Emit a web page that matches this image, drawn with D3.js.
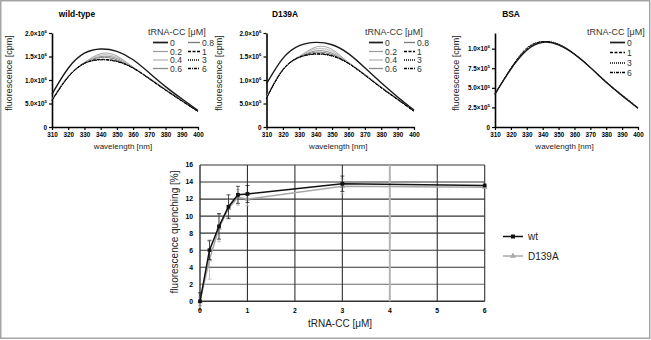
<!DOCTYPE html>
<html>
<head>
<meta charset="utf-8">
<script src="https://cdnjs.cloudflare.com/ajax/libs/d3/7.8.5/d3.min.js"></script>
<style>
    body { margin: 0; background: #fff; }
    svg { display: block; font-family: "Liberation Sans", Arial, sans-serif; }
    .tick-lbl { font-weight: bold; }
</style>
</head>
<body>
<div id="figure"></div>
<script>
var wavelengths = [310, 320, 330, 340, 350, 360, 370, 380, 390, 400];
var concLabels = ["0", "0.2", "0.4", "0.6", "0.8", "1", "3", "6"];
var bsaConcLabels = ["0", "1", "3", "6"];

// fluorescence in 10^6 cpm, one row per tRNA-CC concentration
var wtSpectra = [
    [0.70, 1.25, 1.57, 1.66, 1.61, 1.43, 1.15, 0.86, 0.60, 0.35],
    [0.58, 1.08, 1.37, 1.56, 1.51, 1.27, 1.04, 0.80, 0.57, 0.34],
    [0.58, 1.08, 1.37, 1.53, 1.48, 1.27, 1.04, 0.80, 0.57, 0.34],
    [0.57, 1.07, 1.37, 1.50, 1.46, 1.27, 1.03, 0.79, 0.56, 0.34],
    [0.57, 1.07, 1.36, 1.48, 1.43, 1.26, 1.03, 0.79, 0.56, 0.33],
    [0.57, 1.07, 1.36, 1.44, 1.40, 1.26, 1.03, 0.79, 0.56, 0.33],
    [0.57, 1.06, 1.35, 1.43, 1.40, 1.25, 1.03, 0.79, 0.56, 0.33],
    [0.56, 1.06, 1.35, 1.43, 1.39, 1.25, 1.02, 0.78, 0.55, 0.33]
];
var d139aSpectra = [
    [0.92, 1.46, 1.73, 1.80, 1.75, 1.56, 1.26, 0.94, 0.64, 0.36],
    [0.63, 1.23, 1.50, 1.70, 1.65, 1.37, 1.12, 0.85, 0.60, 0.35],
    [0.63, 1.23, 1.50, 1.66, 1.61, 1.37, 1.12, 0.85, 0.60, 0.35],
    [0.62, 1.22, 1.49, 1.62, 1.57, 1.37, 1.11, 0.84, 0.59, 0.34],
    [0.62, 1.22, 1.49, 1.59, 1.54, 1.36, 1.11, 0.84, 0.59, 0.34],
    [0.62, 1.22, 1.49, 1.56, 1.52, 1.36, 1.11, 0.84, 0.59, 0.34],
    [0.61, 1.21, 1.48, 1.55, 1.51, 1.35, 1.10, 0.84, 0.59, 0.34],
    [0.61, 1.21, 1.48, 1.55, 1.51, 1.35, 1.10, 0.83, 0.58, 0.33]
];
var bsaSpectra = [
    [0.42, 0.74, 0.98, 1.08, 1.05, 0.93, 0.76, 0.57, 0.40, 0.24],
    [0.42, 0.75, 1.00, 1.09, 1.05, 0.93, 0.76, 0.57, 0.40, 0.24],
    [0.42, 0.75, 1.01, 1.09, 1.06, 0.93, 0.76, 0.58, 0.41, 0.25],
    [0.42, 0.74, 0.99, 1.09, 1.05, 0.93, 0.76, 0.57, 0.40, 0.24]
];

var titrConc = [0, 0.2, 0.4, 0.6, 0.8, 1, 3, 6];
var wtQuench = [0, 6.0, 8.8, 11.1, 12.5, 12.6, 13.8, 13.6];
var wtErr = [1.0, 1.1, 1.5, 1.4, 1.0, 1.0, 0.9, 0];
var d139aQuench = [0, 4.9, 8.6, 10.9, 12.2, 12.0, 13.5, 13.4];
var d139aErr = [0.5, 2.3, 1.6, 1.1, 0.9, 0.8, 0.9, 0];
var quenchXTicks = [0, 1, 2, 3, 4, 5, 6];
var quenchYTicks = [0, 2, 4, 6, 8, 10, 12, 14, 16];

// line look for each concentration label
var lineStyles = {
    "0":   { color: "#1a1a1a", width: 1.4, dash: null },
    "0.2": { color: "#9a9a9a", width: 0.9, dash: null },
    "0.4": { color: "#c6c6c6", width: 1.3, dash: null },
    "0.6": { color: "#8c8c8c", width: 1.0, dash: null },
    "0.8": { color: "#7a7a7a", width: 1.0, dash: null },
    "1":   { color: "#000", width: 1.0, dash: "3,1.5" },
    "3":   { color: "#000", width: 1.0, dash: "1,1" },
    "6":   { color: "#000", width: 1.0, dash: "3,1,1,1" }
};

var svg = d3.select("#figure").append("svg")
    .attr("width", 651)
    .attr("height", 340);

svg.append("rect")
    .attr("x", 0.75).attr("y", 0.75)
    .attr("width", 649).attr("height", 337.5)
    .attr("fill", "#fff")
    .attr("stroke", "#a5a5a5")
    .attr("stroke-width", 1.5);

/*
 *  SpectrumVis - one emission spectrum panel
 */
SpectrumVis = function(_svg, _title, _spectra, _labels, _opts) {
    this.svg = _svg;
    this.title = _title;
    this.spectra = _spectra;
    this.labels = _labels;
    this.opts = _opts;
    this.initVis();
}

SpectrumVis.prototype.initVis = function() {
    var vis = this;
    var o = vis.opts;

    vis.g = vis.svg.append("g");

    vis.x = d3.scaleLinear().domain([310, 400]).range([o.left, o.right]);
    vis.y = d3.scaleLinear().domain([0, o.yMax]).range([127, 33]);

    // x axis
    vis.xAxis = d3.axisBottom(vis.x)
        .tickValues(wavelengths)
        .tickSize(3)
        .tickSizeOuter(0)
        .tickPadding(2.5);
    vis.g.append("g")
        .attr("transform", "translate(0,127)")
        .call(vis.xAxis)
        .call(function(g) {
            g.select(".domain").attr("stroke-width", 1.6);
            g.selectAll(".tick line").attr("stroke-width", 1.2);
            g.selectAll("text").attr("class", "tick-lbl")
                .attr("font-size", 6.3).attr("font-family", null);
        });

    // y axis with powers of ten
    vis.yAxis = d3.axisLeft(vis.y)
        .tickValues(o.yTicks)
        .tickSize(3)
        .tickSizeOuter(0)
        .tickPadding(2);
    vis.g.append("g")
        .attr("transform", "translate(" + o.left + ",0)")
        .call(vis.yAxis)
        .call(function(g) {
            g.select(".domain").attr("stroke-width", 1.6);
            g.selectAll(".tick line").attr("stroke-width", 1.2);
            g.selectAll("text").attr("class", "tick-lbl")
                .attr("font-size", 6.3).attr("font-family", null)
                .each(function(d) {
                    var t = d3.select(this).text("");
                    if (d === 0) { t.text("0"); return; }
                    var mant = d >= 1 ? d : d * 10;
                    var pow = d >= 1 ? "6" : "5";
                    t.append("tspan").text(mant.toFixed(1) + "\u00d710");
                    t.append("tspan").attr("dy", -2.8).attr("font-size", 4.4).text(pow);
                });
        });

    vis.g.append("text")
        .attr("x", (o.left + o.right) / 2 - 2)
        .attr("y", 148.5)
        .attr("text-anchor", "middle")
        .attr("font-size", 8)
        .attr("fill", "#222")
        .text("wavelength [nm]");

    vis.g.append("text")
        .attr("transform", "translate(" + (o.left - o.yTitleOff) + ",73) rotate(-90)")
        .attr("text-anchor", "middle")
        .attr("font-size", 9)
        .attr("fill", "#222")
        .text("fluorescence [cpm]");

    vis.g.append("text")
        .attr("x", o.titleX)
        .attr("y", 17)
        .attr("text-anchor", "middle")
        .attr("font-size", 8.4)
        .attr("font-weight", "bold")
        .text(vis.title);

    vis.line = d3.line()
        .x(function(d, i) { return vis.x(wavelengths[i]); })
        .y(function(d) { return vis.y(d); })
        .curve(d3.curveNatural);

    vis.updateVis();
}

SpectrumVis.prototype.updateVis = function() {
    var vis = this;
    var o = vis.opts;

    // draw grey ones first, black on top
    var order = vis.labels.map(function(l, i) { return i; });
    order.sort(function(a, b) {
        var sa = lineStyles[vis.labels[a]], sb = lineStyles[vis.labels[b]];
        return (sa.color === "#000" || a === 0 ? 1 : 0) - (sb.color === "#000" || b === 0 ? 1 : 0) || b - a;
    });

    vis.g.append("g").selectAll("path")
        .data(order)
        .enter()
        .append("path")
        .attr("fill", "none")
        .attr("d", function(i) { return vis.line(vis.spectra[i]); })
        .attr("stroke", function(i) { return lineStyles[vis.labels[i]].color; })
        .attr("stroke-width", function(i) { return lineStyles[vis.labels[i]].width; })
        .attr("stroke-dasharray", function(i) { return lineStyles[vis.labels[i]].dash; });

    // legend
    var lg = vis.g.append("g");
    lg.append("text")
        .attr("x", o.legendX)
        .attr("y", 35)
        .attr("font-size", 9)
        .attr("fill", "#333")
        .text("tRNA-CC [\u03bcM]");

    var rows = o.legendRows;
    vis.labels.forEach(function(lab, i) {
        var col = Math.floor(i / rows.length);
        var row = i % rows.length;
        var x0 = o.legendX + o.legendCols[col];
        var len = o.legendLines[col];
        var yy = rows[row];
        var st = lineStyles[lab];
        lg.append("line")
            .attr("x1", x0).attr("x2", x0 + len)
            .attr("y1", yy).attr("y2", yy)
            .attr("stroke", st.color)
            .attr("stroke-width", st.width + 0.3)
            .attr("stroke-dasharray", st.dash);
        lg.append("text")
            .attr("x", x0 + len + 2)
            .attr("y", yy + 3.1)
            .attr("font-size", 8.6)
            .attr("fill", "#333")
            .text(lab);
    });
}

new SpectrumVis(svg, "wild-type", wtSpectra, concLabels, {
    left: 52, right: 198, yMax: 2.0, yTicks: [0, 0.5, 1.0, 1.5, 2.0],
    titleX: 77, yTitleOff: 40, legendX: 148,
    legendCols: [5, 40], legendLines: [15, 12], legendRows: [42.5, 51.5, 60, 68.5]
});
new SpectrumVis(svg, "D139A", d139aSpectra, concLabels, {
    left: 266.5, right: 414, yMax: 2.0, yTicks: [0, 0.5, 1.0, 1.5, 2.0],
    titleX: 285, yTitleOff: 45, legendX: 365,
    legendCols: [4, 39], legendLines: [14, 11], legendRows: [42.5, 51.5, 60, 68.5]
});
new SpectrumVis(svg, "BSA", bsaSpectra, bsaConcLabels, {
    left: 495, right: 638, yMax: 1.2, yTicks: [0, 0.25, 0.5, 0.75, 1.0],
    titleX: 511, yTitleOff: 36, legendX: 587,
    legendCols: [23], legendLines: [15], legendRows: [42.5, 52.5, 63, 72.5]
});

/*
 *  QuenchVis - fluorescence quenching vs tRNA-CC
 */
QuenchVis = function(_svg) {
    this.svg = _svg;
    this.initVis();
}

QuenchVis.prototype.initVis = function() {
    var vis = this;

    vis.g = vis.svg.append("g");
    vis.x = d3.scaleLinear().domain([0, 6]).range([200, 484.7]);
    vis.y = d3.scaleLinear().domain([0, 16]).range([301.3, 165]);

    // grid
    vis.g.append("g").selectAll("line")
        .data(quenchYTicks)
        .enter().append("line")
        .attr("x1", vis.x(0)).attr("x2", vis.x(6))
        .attr("y1", function(d) { return vis.y(d); })
        .attr("y2", function(d) { return vis.y(d); })
        .attr("stroke", function(d) { return d === 2 ? "#6a6a6a" : "#333"; })
        .attr("stroke-width", function(d) { return d === 0 ? 1.4 : 1.1; });
    vis.g.append("g").selectAll("line")
        .data(quenchXTicks)
        .enter().append("line")
        .attr("x1", function(d) { return vis.x(d); })
        .attr("x2", function(d) { return vis.x(d); })
        .attr("y1", vis.y(0)).attr("y2", vis.y(16))
        .attr("stroke", function(d) { return d === 4 ? "#b4b4b4" : "#333"; })
        .attr("stroke-width", function(d) { return d === 4 ? 2 : (d === 0 ? 1.4 : 1.1); });

    // tick labels
    vis.g.append("g").selectAll("text")
        .data(quenchYTicks)
        .enter().append("text")
        .attr("class", "tick-lbl")
        .attr("x", vis.x(0) - 7)
        .attr("y", function(d) { return vis.y(d) + 2.4; })
        .attr("text-anchor", "end")
        .attr("font-size", 6.8)
        .text(function(d) { return d; });
    vis.g.append("g").selectAll("text")
        .data(quenchXTicks)
        .enter().append("text")
        .attr("class", "tick-lbl")
        .attr("x", function(d) { return vis.x(d); })
        .attr("y", 312.5)
        .attr("text-anchor", "middle")
        .attr("font-size", 6.8)
        .text(function(d) { return d; });

    vis.g.append("text")
        .attr("x", 340)
        .attr("y", 327)
        .attr("text-anchor", "middle")
        .attr("font-size", 10)
        .attr("fill", "#222")
        .text("tRNA-CC [\u03bcM]");
    vis.g.append("text")
        .attr("transform", "translate(178,232) rotate(-90)")
        .attr("text-anchor", "middle")
        .attr("font-size", 10)
        .attr("fill", "#222")
        .text("fluorescence quenching [%]");

    vis.series = [
        { name: "D139A", vals: d139aQuench, err: d139aErr, color: "#a8a8a8", marker: "tri" },
        { name: "wt", vals: wtQuench, err: wtErr, color: "#111", marker: "sq" }
    ];

    vis.updateVis();
}

QuenchVis.prototype.updateVis = function() {
    var vis = this;

    var line = d3.line()
        .x(function(d, i) { return vis.x(titrConc[i]); })
        .y(function(d) { return vis.y(d); });

    vis.series.forEach(function(s) {
        var sg = vis.g.append("g");

        // error bars
        var eb = sg.selectAll(".err")
            .data(s.vals)
            .enter().append("g")
            .attr("class", "err");
        eb.append("line")
            .attr("x1", function(d, i) { return vis.x(titrConc[i]); })
            .attr("x2", function(d, i) { return vis.x(titrConc[i]); })
            .attr("y1", function(d, i) { return vis.y(d - s.err[i]); })
            .attr("y2", function(d, i) { return vis.y(d + s.err[i]); })
            .attr("stroke", s.color)
            .attr("stroke-width", 0.7);
        [-1, 1].forEach(function(sign) {
            eb.append("line")
                .attr("x1", function(d, i) { return vis.x(titrConc[i]) - 2; })
                .attr("x2", function(d, i) { return vis.x(titrConc[i]) + 2; })
                .attr("y1", function(d, i) { return vis.y(d + sign * s.err[i]); })
                .attr("y2", function(d, i) { return vis.y(d + sign * s.err[i]); })
                .attr("stroke", s.color)
                .attr("stroke-width", 0.7)
                .attr("display", function(d, i) { return s.err[i] > 0 ? null : "none"; });
        });

        sg.append("path")
            .attr("d", line(s.vals))
            .attr("fill", "none")
            .attr("stroke", s.color)
            .attr("stroke-width", 1.5);

        sg.selectAll(".mk")
            .data(s.vals)
            .enter().append("path")
            .attr("class", "mk")
            .attr("transform", function(d, i) {
                return "translate(" + vis.x(titrConc[i]) + "," + vis.y(d) + ")";
            })
            .attr("d", d3.symbol().type(s.marker === "sq" ? d3.symbolSquare : d3.symbolTriangle).size(14))
            .attr("fill", s.color);
    });

    // legend
    var items = [vis.series[1], vis.series[0]];
    var lg = vis.g.append("g").selectAll("g")
        .data(items)
        .enter().append("g")
        .attr("transform", function(d, i) { return "translate(503," + (236.5 + i * 19.5) + ")"; });
    lg.append("line")
        .attr("x1", 0).attr("x2", 20)
        .attr("stroke", function(d) { return d.color; })
        .attr("stroke-width", 1.5);
    lg.append("path")
        .attr("transform", "translate(10,0)")
        .attr("d", function(d) {
            return d3.symbol().type(d.marker === "sq" ? d3.symbolSquare : d3.symbolTriangle).size(16)();
        })
        .attr("fill", function(d) { return d.color; });
    lg.append("text")
        .attr("x", 25)
        .attr("y", 3.5)
        .attr("font-size", 10)
        .attr("fill", "#222")
        .text(function(d) { return d.name; });
}

new QuenchVis(svg);
</script>
</body>
</html>
